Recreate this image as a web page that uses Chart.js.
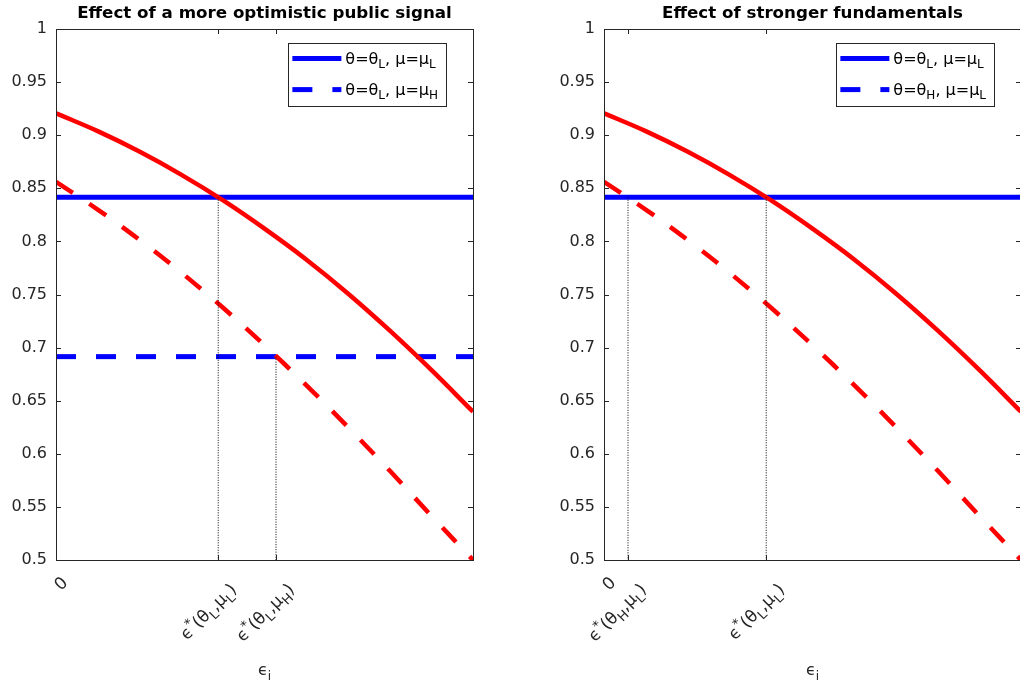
<!DOCTYPE html>
<html><head><meta charset="utf-8">
<script src="https://cdn.jsdelivr.net/npm/chart.js@4"></script>
<style>
html,body{margin:0;padding:0;background:#fff;overflow:hidden;width:1020px;height:688px;position:relative;}
.wrap{position:absolute;top:0;width:510px;height:688px;}
</style></head><body>
<div class="wrap" style="left:0"><canvas id="c1" width="510" height="688"></canvas></div>
<div class="wrap" style="left:548px"><canvas id="c2" width="510" height="688"></canvas></div>
<script>
// ---- data ----
const xSolid = [0, 0.1, 0.2, 0.3, 0.4, 0.5, 0.6, 0.7, 0.8, 0.9, 1];
const ySolid = [0.9206, 0.9038, 0.8846, 0.8629, 0.8388, 0.8120, 0.7830, 0.7510, 0.7162, 0.6790, 0.6396];
const xDashed = [0, 0.1, 0.2, 0.3, 0.4, 0.5, 0.6, 0.7, 0.8, 0.9, 1];
const yDashed = [0.8560, 0.8300, 0.8016, 0.7708, 0.7377, 0.7022, 0.6647, 0.6252, 0.5842, 0.5417, 0.5000];
const levelLL = 0.8415;   // θ=θL, μ=μL
const levelLH = 0.6915;   // θ=θL, μ=μH
const yTicks = [0.5, 0.55, 0.6, 0.65, 0.7, 0.75, 0.8, 0.85, 0.9, 0.95, 1];
const yTickLabels = ['0.5', '0.55', '0.6', '0.65', '0.7', '0.75', '0.8', '0.85', '0.9', '0.95', '1'];

const leftXTicks = [0, 0.389, 0.5276];
const leftXTickLabels = ['0', 'ϵ^*(θ_L,μ_L)', 'ϵ^*(θ_L,μ_H)'];
const leftLegend = ['θ=θ_L, μ=μ_L', 'θ=θ_L, μ=μ_H'];
const leftTitle = 'Effect of a more optimistic public signal';

const rightXTicks = [0, 0.0576, 0.389];
const rightXTickLabels = ['0', 'ϵ^*(θ_H,μ_L)', 'ϵ^*(θ_L,μ_L)'];
const rightLegend = ['θ=θ_L, μ=μ_L', 'θ=θ_H, μ=μ_L'];
const rightTitle = 'Effect of stronger fundamentals';
const xAxisTitle = 'ϵ_i';

// ---- helpers ----
const FAM = '"DejaVu Sans", Verdana, sans-serif';
const AX = '#262626';
const pts = (xs, ys) => xs.map((x, i) => ({x, y: ys[i]}));
const hline = v => [{x: 0, y: v}, {x: 1, y: v}];
const vdrop = (x, top) => [{x, y: top}, {x, y: 0.5}];

function parseRich(s) {
  const out = [];
  for (let i = 0; i < s.length; i++) {
    const c = s[i];
    if ((c === '^' || c === '_') && i + 1 < s.length) {
      out.push({t: s[i + 1], k: c === '^' ? 'sup' : 'sub'}); i++;
    } else {
      if (out.length && out[out.length - 1].k === 'n') out[out.length - 1].t += c;
      else out.push({t: c, k: 'n'});
    }
  }
  return out;
}
const subSize = size => Math.round(size * 0.75);
function richWidth(ctx, segs, size) {
  let w = 0;
  for (const s of segs) {
    ctx.font = (s.k === 'n' ? size : subSize(size)) + 'px ' + FAM;
    w += ctx.measureText(s.t).width;
  }
  return w;
}
function drawRich(ctx, segs, x, y, size) {
  for (const s of segs) {
    const sz = s.k === 'n' ? size : subSize(size);
    ctx.font = sz + 'px ' + FAM;
    const dy = s.k === 'sub' ? size * 0.3 : (s.k === 'sup' ? -size * 0.4 : 0);
    ctx.fillText(s.t, x, y + dy);
    x += ctx.measureText(s.t).width;
  }
}

const decor = {
  id: 'decor',
  afterDraw(chart, args, o) {
    const ctx = chart.ctx, a = chart.chartArea;
    const xs = chart.scales.x, ys = chart.scales.y;
    ctx.save();
    ctx.strokeStyle = AX; ctx.lineWidth = 1;
    ctx.strokeRect(a.left + 0.5, a.top + 0.5, a.right - a.left, a.bottom - a.top);
    ctx.beginPath();
    for (const v of yTicks) {
      const p = Math.round(ys.getPixelForValue(v)) + 0.5;
      ctx.moveTo(a.left, p); ctx.lineTo(a.left + 5, p);
      ctx.moveTo(a.right, p); ctx.lineTo(a.right - 5, p);
    }
    for (const v of o.xTicks) {
      const p = Math.round(xs.getPixelForValue(v)) + 0.5;
      ctx.moveTo(p, a.bottom); ctx.lineTo(p, a.bottom - 5);
      ctx.moveTo(p, a.top); ctx.lineTo(p, a.top + 5);
    }
    ctx.stroke();
    // rotated x tick labels
    ctx.fillStyle = AX; ctx.textBaseline = 'alphabetic'; ctx.textAlign = 'left';
    o.xTickLabels.forEach((lab, i) => {
      const segs = parseRich(lab);
      const size = 17;
      const w = richWidth(ctx, segs, size);
      const px = xs.getPixelForValue(o.xTicks[i]);
      const d = segs.length > 1 ? 19 : 9.5;
      const ax = px + 1.5 + 0.707 * d, ay = a.bottom + 12.6 + 0.707 * d;
      ctx.save();
      ctx.translate(ax, ay);
      ctx.rotate(-Math.PI / 4);
      drawRich(ctx, segs, -w, size * 0.36, size);
      ctx.restore();
    });
    // x axis title
    const tsegs = parseRich(xAxisTitle);
    const tw = richWidth(ctx, tsegs, 16);
    drawRich(ctx, tsegs, (a.left + a.right) / 2 - tw / 2, 675, 16);
    // title
    ctx.fillStyle = '#000'; ctx.textAlign = 'center'; ctx.textBaseline = 'middle';
    ctx.font = 'bold 16.7px ' + FAM;
    ctx.fillText(o.title, (a.left + a.right) / 2, 14);
    // legend
    ctx.textAlign = 'left'; ctx.textBaseline = 'alphabetic';
    const lsize = 16;
    const lsegs = o.legend.map(parseRich);
    const lw = Math.max(...lsegs.map(s => richWidth(ctx, s, lsize)));
    const bw = 4 + 49 + 4 + lw + 8, bh = 63;
    const bx = a.right - 27 - bw, by = a.top + 14;
    ctx.fillStyle = '#fff'; ctx.fillRect(bx, by, bw, bh);
    ctx.strokeStyle = AX; ctx.lineWidth = 1;
    ctx.strokeRect(Math.round(bx) + 0.5, Math.round(by) + 0.5, Math.round(bw), bh);
    const rows = [by + 15.6, by + 46.6];
    ctx.strokeStyle = '#0000FF'; ctx.lineWidth = 5; ctx.lineCap = 'butt';
    rows.forEach((ry, i) => {
      ctx.setLineDash(i === 0 ? [] : [20, 20]);
      ctx.beginPath(); ctx.moveTo(bx + 4, ry); ctx.lineTo(bx + 53, ry); ctx.stroke();
    });
    ctx.setLineDash([]);
    ctx.fillStyle = '#000';
    rows.forEach((ry, i) => drawRich(ctx, lsegs[i], bx + 57, ry + 5, lsize));
    ctx.restore();
  }
};

function makeChart(id, datasets, xTicks, xTickLabels, legend, title) {
  return new Chart(document.getElementById(id), {
    type: 'line',
    data: {datasets},
    options: {
      responsive: false, animation: false,
      layout: {padding: {left: 0, right: 37, top: 29, bottom: 0}},
      elements: {point: {radius: 0}},
      plugins: {
        legend: {display: false}, tooltip: {enabled: false}, title: {display: false},
        decor: {xTicks, xTickLabels, legend, title}
      },
      scales: {
        x: {
          type: 'linear', min: 0, max: 1,
          afterBuildTicks: s => { s.ticks = xTicks.map(v => ({value: v})); },
          afterFit: s => { s.height = 128; },
          ticks: {display: false}, grid: {display: false}, border: {display: false}
        },
        y: {
          type: 'linear', min: 0.5, max: 1,
          afterBuildTicks: s => { s.ticks = yTicks.map(v => ({value: v})); },
          afterFit: s => { s.width = 56; },
          ticks: {font: {size: 16, family: FAM}, color: AX, padding: 9, callback: (v, i) => yTickLabels[i]},
          grid: {display: false, drawTicks: false}, border: {display: false}
        }
      }
    },
    plugins: [decor]
  });
}

const blueSolid = v => ({data: hline(v), borderColor: '#0000FF', borderWidth: 5, order: 3});
const blueDashed = v => ({data: hline(v), borderColor: '#0000FF', borderWidth: 5, borderDash: [20, 20], borderCapStyle: 'butt', order: 3});
const redSolid = () => ({data: pts(xSolid, ySolid), borderColor: '#FF0000', borderWidth: 4.5, tension: 0.4, order: 2});
const redDashed = () => ({data: pts(xDashed, yDashed), borderColor: '#FF0000', borderWidth: 4.5, borderDash: [20, 20], borderCapStyle: 'butt', tension: 0.4, order: 2});
const dotted = (x, top) => ({data: vdrop(x, top), borderColor: '#000', borderWidth: 1, borderDash: [1, 1.5], order: 1});

makeChart('c1', [
  blueSolid(levelLL), blueDashed(levelLH), redSolid(), redDashed(),
  dotted(leftXTicks[1], levelLL), dotted(leftXTicks[2], levelLH)
], leftXTicks, leftXTickLabels, leftLegend, leftTitle);

makeChart('c2', [
  blueSolid(levelLL), redSolid(), redDashed(),
  dotted(rightXTicks[1], levelLL), dotted(rightXTicks[2], levelLL)
], rightXTicks, rightXTickLabels, rightLegend, rightTitle);
</script>
</body></html>
